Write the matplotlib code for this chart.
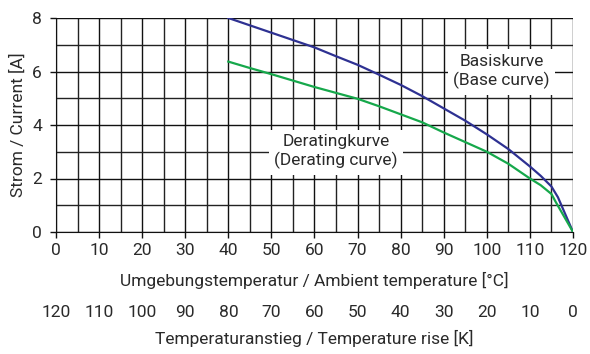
import matplotlib
matplotlib.use("Agg")
import matplotlib.pyplot as plt
import numpy as np

plt.rcParams['font.family'] = ['Roboto', 'DejaVu Sans']

# Data
base_x = [40, 50, 60, 65, 70, 75, 80, 85, 90, 95, 100, 105, 110, 112.5, 115, 116.5, 120]
base_y = [8.0, 7.45, 6.9, 6.57, 6.25, 5.88, 5.5, 5.08, 4.62, 4.16, 3.65, 3.1, 2.45, 2.1, 1.7, 1.3, 0.0]
der_x = [40, 45, 50, 55, 60, 65, 70, 75, 80, 85, 90, 95, 100, 105, 110, 112.5, 115, 116, 120]
der_y = [6.37, 6.13, 5.9, 5.66, 5.42, 5.2, 4.98, 4.7, 4.4, 4.1, 3.72, 3.36, 3.0, 2.55, 2.0, 1.75, 1.42, 1.12, 0.0]
x_ticks = list(range(0, 121, 10))
y_ticks = [0, 2, 4, 6, 8]
rise_labels = [str(120 - t) for t in x_ticks]

TXT = '#2a2a2a'
fig = plt.figure(figsize=(5.9, 3.54), dpi=100)
ax = fig.add_axes([56/590, 1 - 232/354, (573-56)/590, (232-18)/354])
ax.set_xlim(0, 120)
ax.set_ylim(0, 8)

ax.set_xticks(x_ticks)
ax.set_xticks(np.arange(5, 120, 10), minor=True)
ax.set_yticks(y_ticks)
ax.set_yticks([1, 3, 5, 7], minor=True)
ax.grid(which='major', color='#111111', linewidth=1.0)
ax.grid(which='minor', color='#222222', linewidth=1.0)
ax.set_axisbelow(True)
for s in ['top', 'right']:
    ax.spines[s].set_visible(False)
ax.spines['left'].set_color('#111111')
ax.spines['bottom'].set_color('#111111')
ax.tick_params(which='major', length=4, width=1, colors='#111111', labelsize=12.5, labelcolor=TXT)
ax.tick_params(which='minor', length=0)
ax.tick_params(axis='x', pad=4)
ax.tick_params(axis='y', pad=6)

ax.plot(base_x, base_y, color='#2E3192', linewidth=1.6, zorder=3)
ax.plot(der_x, der_y, color='#16A84B', linewidth=1.6, zorder=3)

ax.set_ylabel('Strom / Current [A]', fontsize=12.5, color=TXT, labelpad=5)
ax.set_xlabel('Umgebungstemperatur / Ambient temperature [°C]', fontsize=12.5, color=TXT, labelpad=10)

box = dict(facecolor='white', edgecolor='none', pad=4)
ax.text(103.4, 6.0, 'Basiskurve\n(Base curve)', ha='center', va='center', fontsize=12.5,
        color=TXT, bbox=box, zorder=4, linespacing=1.2)
ax.text(65.0, 3.0, 'Deratingkurve\n(Derating curve)', ha='center', va='center', fontsize=12.5,
        color=TXT, bbox=box, zorder=4, linespacing=1.2)

sec = ax.secondary_xaxis(-0.32)
sec.set_xticks(x_ticks)
sec.set_xticklabels(rise_labels)
sec.spines['bottom'].set_visible(False)
sec.tick_params(length=0, labelsize=12.5, labelcolor=TXT)
sec.set_xlabel('Temperaturanstieg / Temperature rise [K]', fontsize=12.5, color=TXT, labelpad=7)

fig.savefig('out.png', dpi=100)
